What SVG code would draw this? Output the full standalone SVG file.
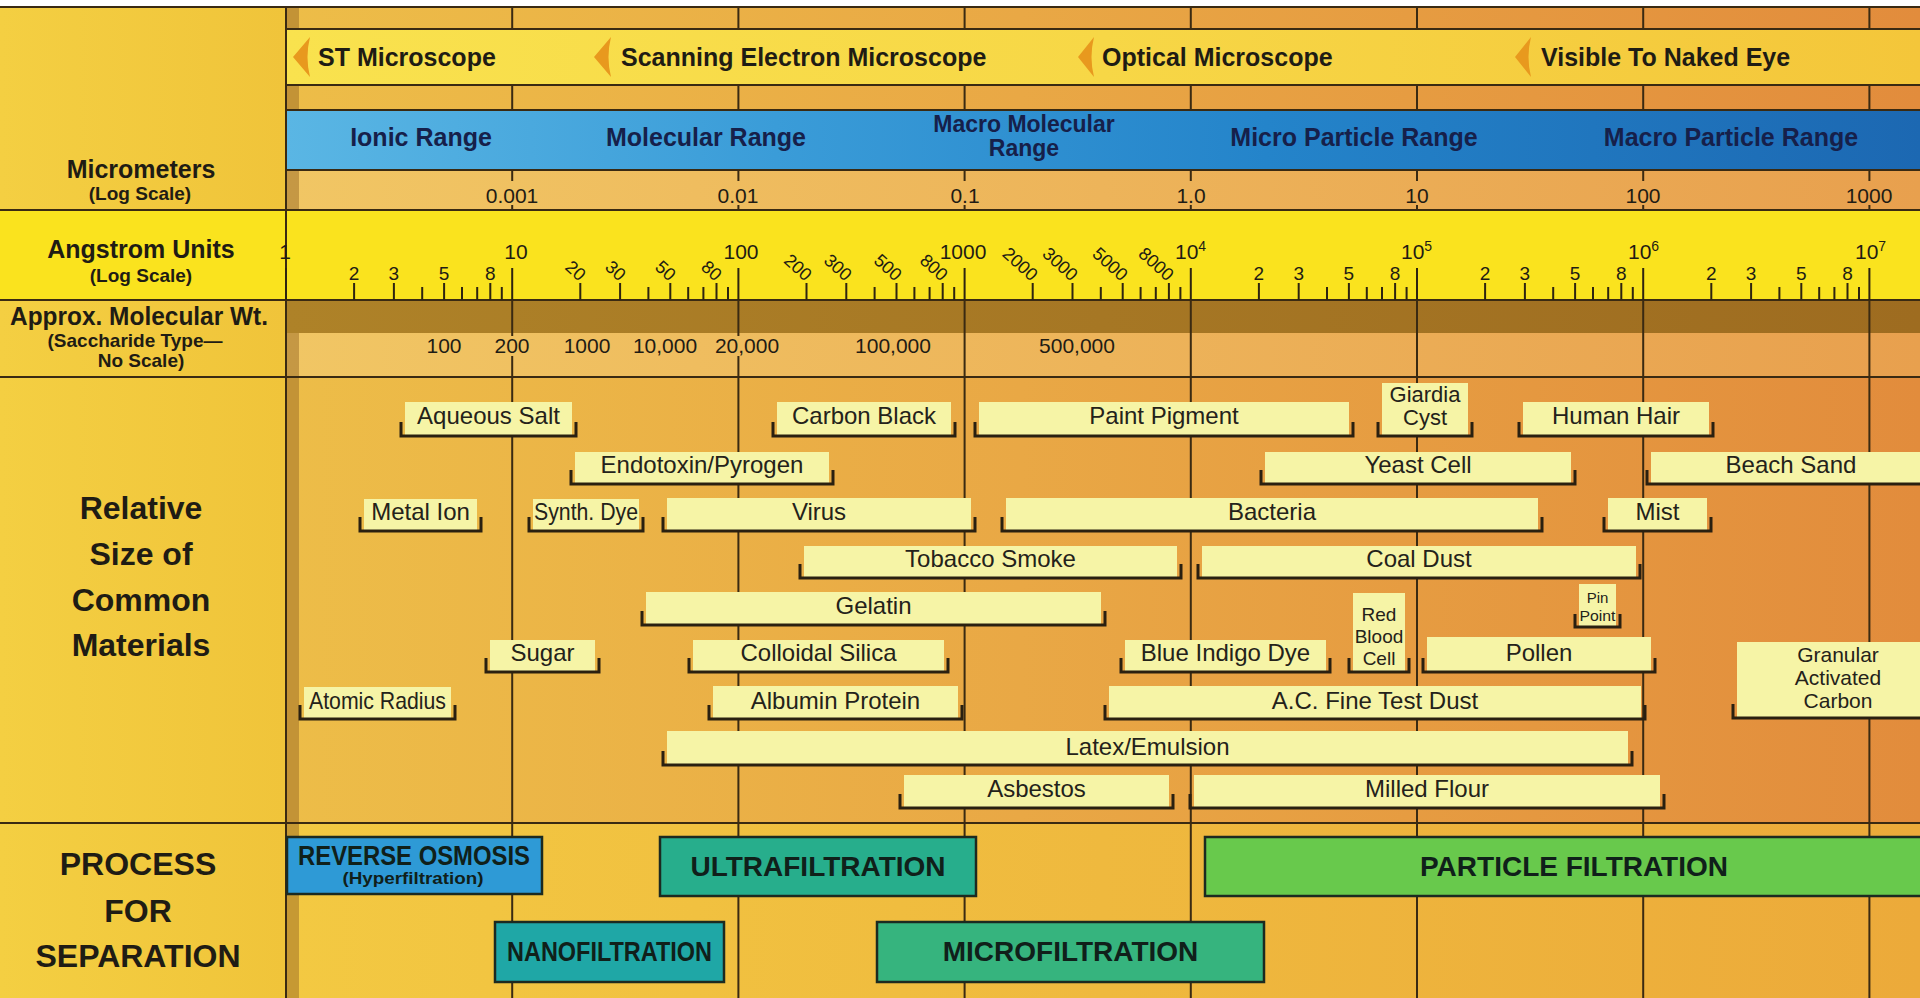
<svg xmlns="http://www.w3.org/2000/svg" width="1920" height="998" viewBox="0 0 1920 998">
  <defs>
    <linearGradient id="gOrange" x1="286" y1="0" x2="1920" y2="0" gradientUnits="userSpaceOnUse">
      <stop offset="0" stop-color="#EDBD48"/>
      <stop offset="0.45" stop-color="#E9A845"/>
      <stop offset="1" stop-color="#E28C3C"/>
    </linearGradient>
    <linearGradient id="gLight" x1="286" y1="0" x2="1920" y2="0" gradientUnits="userSpaceOnUse">
      <stop offset="0" stop-color="#F1C664"/>
      <stop offset="0.5" stop-color="#EDB45A"/>
      <stop offset="1" stop-color="#E8A04E"/>
    </linearGradient>
    <linearGradient id="gProc" x1="286" y1="0" x2="1920" y2="0" gradientUnits="userSpaceOnUse">
      <stop offset="0" stop-color="#F3C942"/>
      <stop offset="0.5" stop-color="#EFB93E"/>
      <stop offset="1" stop-color="#ECAA3A"/>
    </linearGradient>
    <linearGradient id="gScope" x1="286" y1="0" x2="1920" y2="0" gradientUnits="userSpaceOnUse">
      <stop offset="0" stop-color="#F9E24E"/>
      <stop offset="0.5" stop-color="#F7D746"/>
      <stop offset="1" stop-color="#F4C63A"/>
    </linearGradient>
    <linearGradient id="gBlue" x1="286" y1="0" x2="1920" y2="0" gradientUnits="userSpaceOnUse">
      <stop offset="0" stop-color="#5AB6E4"/>
      <stop offset="0.3" stop-color="#3A9CD8"/>
      <stop offset="0.6" stop-color="#2484CA"/>
      <stop offset="1" stop-color="#1C68B2"/>
    </linearGradient>
    <linearGradient id="gBrown" x1="286" y1="0" x2="1920" y2="0" gradientUnits="userSpaceOnUse">
      <stop offset="0" stop-color="#AE8228"/>
      <stop offset="1" stop-color="#9E6C20"/>
    </linearGradient>
    <linearGradient id="gLeft" x1="0" y1="0" x2="286" y2="0" gradientUnits="userSpaceOnUse">
      <stop offset="0" stop-color="#F4CF42"/>
      <stop offset="1" stop-color="#F0C43A"/>
    </linearGradient>
  </defs>
  <style>
    text { font-family: "Liberation Sans", Arial, Helvetica, sans-serif; fill: #1f1c14; }
    .hdr { font-size: 25px; font-weight: bold; text-anchor: middle; }
    .sub { font-size: 19px; font-weight: bold; text-anchor: middle; }
    .big { font-size: 32px; font-weight: bold; text-anchor: middle; }
    .scope { font-size: 25px; font-weight: bold; }
    .rng { font-size: 25px; font-weight: bold; text-anchor: middle; fill: #16204a; }
    .num { font-size: 21px; text-anchor: middle; }
    .dig { font-size: 19px; text-anchor: middle; }
    .rot { font-size: 18px; text-anchor: end; }
    .grid { stroke: #3a2a12; stroke-width: 2; fill: none; }
    .tick { stroke: #2e2410; stroke-width: 2; fill: none; }
    .box { fill: #F6F4A6; }
    .brk { fill: none; stroke: #2a2010; stroke-width: 3; }
    .mt { font-size: 24px; text-anchor: middle; fill: #24221a; }
    .arrow { fill: #E8991E; }
    .proc { stroke: #1c2a20; stroke-width: 2.5; }
    .pt { font-size: 28px; font-weight: bold; text-anchor: middle; fill: #10201a; }
  </style>

  <!-- backgrounds -->
  <g id="background">
    <rect x="0" y="0" width="1920" height="998" fill="#FFFFFF"/>
    <rect x="0" y="7" width="286" height="991" fill="url(#gLeft)"/>
    <rect x="286" y="7" width="1634" height="22" fill="url(#gOrange)"/>
    <rect x="286" y="85" width="1634" height="25" fill="url(#gOrange)"/>
    <rect x="286" y="170" width="1634" height="40" fill="url(#gLight)"/>
    <rect x="286" y="333" width="1634" height="44" fill="url(#gLight)"/>
    <rect x="286" y="377" width="1634" height="446" fill="url(#gOrange)"/>
    <rect x="286" y="823" width="1634" height="175" fill="url(#gProc)"/>
    <!-- shaded strip along the left edge of the scale -->
    <rect x="287" y="7" width="12" height="991" fill="#9A6A24" opacity="0.5"/>
    <!-- bands -->
    <rect x="287" y="29" width="1633" height="56" fill="url(#gScope)"/>
    <rect x="287" y="110" width="1633" height="60" fill="url(#gBlue)"/>
    <rect x="0" y="210" width="1920" height="90" fill="#FAE31E"/>
    <rect x="287" y="300" width="1633" height="33" fill="url(#gBrown)"/>
  </g>

  <!-- grid lines and rules -->
  <g id="grid">
    <path class="grid" d="M0 7H1920M0 210H1920M0 300H1920M0 377H1920M0 823H1920M286 29H1920M286 85H1920M286 110H1920M286 170H1920"/>
    <path class="grid" d="M286 7V998"/>
    <path class="grid" d="M512.2 7V29M738.4 7V29M964.6 7V29M1190.8 7V29M1417 7V29M1643.2 7V29M1869.4 7V29"/>
    <path class="grid" d="M512.2 85V110M738.4 85V110M964.6 85V110M1190.8 85V110M1417 85V110M1643.2 85V110M1869.4 85V110"/>
    <path class="grid" d="M512.2 170V181M738.4 170V181M964.6 170V181M1190.8 170V181M1417 170V181M1643.2 170V181M1869.4 170V181"/>
    <path class="grid" d="M512.2 205V210M738.4 205V210M964.6 205V210M1190.8 205V210M1417 205V210M1643.2 205V210M1869.4 205V210"/>
    <path class="grid" d="M512.2 300V336M512.2 356V377M738.4 300V336M738.4 356V377M964.6 300V377M1190.8 300V377M1417 300V377M1643.2 300V377M1869.4 300V377"/>
    <path class="grid" d="M512.2 377V998M738.4 377V998M964.6 377V998M1190.8 377V998M1417 377V998M1643.2 377V998M1869.4 377V998"/>
  </g>

  <!-- Angstrom scale ticks -->
  <g id="angstrom-ticks">
    <path class="tick" d="M286 268V300M512.2 268V300M738.4 268V300M964.6 268V300M1190.8 268V300M1417 268V300M1643.2 268V300M1869.4 268V300"/>
    <path class="tick" d="M354.1 283V300M393.9 283V300M444.1 283V300M490.3 283V300
      M580.3 283V300M620.1 283V300M670.3 283V300M716.5 283V300
      M806.5 283V300M846.3 283V300M896.5 283V300M942.7 283V300
      M1032.7 283V300M1072.5 283V300M1122.7 283V300M1168.9 283V300
      M1258.9 283V300M1298.7 283V300M1348.9 283V300M1395.1 283V300
      M1485.1 283V300M1524.9 283V300M1575.1 283V300M1621.3 283V300
      M1711.3 283V300M1751.1 283V300M1801.3 283V300M1847.5 283V300"/>
    <path class="tick" d="M422.2 287V300M462 287V300M477.2 287V300M501.8 287V300
      M648.4 287V300M688.2 287V300M703.4 287V300M728 287V300
      M874.6 287V300M914.4 287V300M929.6 287V300M954.2 287V300
      M1100.8 287V300M1140.6 287V300M1155.8 287V300M1180.4 287V300
      M1327 287V300M1366.8 287V300M1382 287V300M1406.6 287V300
      M1553.2 287V300M1593 287V300M1608.2 287V300M1632.8 287V300
      M1779.4 287V300M1819.2 287V300M1834.4 287V300M1859 287V300"/>
  </g>

  <!-- Angstrom scale labels -->
  <g id="angstrom-labels">
    <text class="num" x="285" y="259">1</text>
    <text class="num" x="516" y="259">10</text>
    <text class="num" x="741" y="259">100</text>
    <text class="num" x="963" y="259">1000</text>
    <text class="num" x="1175" y="259" style="text-anchor:start">10<tspan font-size="14" dy="-8">4</tspan></text>
    <text class="num" x="1401" y="259" style="text-anchor:start">10<tspan font-size="14" dy="-8">5</tspan></text>
    <text class="num" x="1628" y="259" style="text-anchor:start">10<tspan font-size="14" dy="-8">6</tspan></text>
    <text class="num" x="1855" y="259" style="text-anchor:start">10<tspan font-size="14" dy="-8">7</tspan></text>

    <text class="dig" x="354.1" y="280">2</text>
    <text class="dig" x="393.9" y="280">3</text>
    <text class="dig" x="444.1" y="280">5</text>
    <text class="dig" x="490.3" y="280">8</text>

    <text class="rot" x="579" y="282" transform="rotate(42 579 282)">20</text>
    <text class="rot" x="619" y="282" transform="rotate(42 619 282)">30</text>
    <text class="rot" x="669" y="282" transform="rotate(42 669 282)">50</text>
    <text class="rot" x="715" y="282" transform="rotate(42 715 282)">80</text>
    <text class="rot" x="805" y="282" transform="rotate(42 805 282)">200</text>
    <text class="rot" x="845" y="282" transform="rotate(42 845 282)">300</text>
    <text class="rot" x="895" y="282" transform="rotate(42 895 282)">500</text>
    <text class="rot" x="941" y="282" transform="rotate(42 941 282)">800</text>
    <text class="rot" x="1031" y="282" transform="rotate(42 1031 282)">2000</text>
    <text class="rot" x="1071" y="282" transform="rotate(42 1071 282)">3000</text>
    <text class="rot" x="1121" y="282" transform="rotate(42 1121 282)">5000</text>
    <text class="rot" x="1167" y="282" transform="rotate(42 1167 282)">8000</text>

    <text class="dig" x="1258.9" y="280">2</text>
    <text class="dig" x="1298.7" y="280">3</text>
    <text class="dig" x="1348.9" y="280">5</text>
    <text class="dig" x="1395.1" y="280">8</text>
    <text class="dig" x="1485.1" y="280">2</text>
    <text class="dig" x="1524.9" y="280">3</text>
    <text class="dig" x="1575.1" y="280">5</text>
    <text class="dig" x="1621.3" y="280">8</text>
    <text class="dig" x="1711.3" y="280">2</text>
    <text class="dig" x="1751.1" y="280">3</text>
    <text class="dig" x="1801.3" y="280">5</text>
    <text class="dig" x="1847.5" y="280">8</text>
  </g>

  <!-- Micrometer scale labels -->
  <g id="micrometer-labels">
    <text class="num" x="512" y="203">0.001</text>
    <text class="num" x="738" y="203">0.01</text>
    <text class="num" x="965" y="203">0.1</text>
    <text class="num" x="1191" y="203">1.0</text>
    <text class="num" x="1417" y="203">10</text>
    <text class="num" x="1643" y="203">100</text>
    <text class="num" x="1869" y="203">1000</text>
  </g>

  <!-- Molecular weight labels -->
  <g id="mw-labels">
    <text class="num" x="444" y="353">100</text>
    <text class="num" x="512" y="353">200</text>
    <text class="num" x="587" y="353">1000</text>
    <text class="num" x="665" y="353">10,000</text>
    <text class="num" x="747" y="353">20,000</text>
    <text class="num" x="893" y="353">100,000</text>
    <text class="num" x="1077" y="353">500,000</text>
  </g>

  <!-- microscope band -->
  <g id="microscopes">
    <path class="arrow" d="M293 57L310 37Q305 57 310 77Z"/>
    <text class="scope" x="318" y="66">ST Microscope</text>
    <path class="arrow" d="M594 57L611 37Q606 57 611 77Z"/>
    <text class="scope" x="621" y="66">Scanning Electron Microscope</text>
    <path class="arrow" d="M1078 57L1094 37Q1089 57 1094 77Z"/>
    <text class="scope" x="1102" y="66">Optical Microscope</text>
    <path class="arrow" d="M1515 57L1531 37Q1526 57 1531 77Z"/>
    <text class="scope" x="1541" y="66">Visible To Naked Eye</text>
  </g>

  <!-- size ranges -->
  <g id="ranges">
    <text class="rng" x="421" y="146">Ionic Range</text>
    <text class="rng" x="706" y="146">Molecular Range</text>
    <text class="rng" x="1024" y="132" style="font-size:23px">Macro Molecular</text>
    <text class="rng" x="1024" y="156" style="font-size:23px">Range</text>
    <text class="rng" x="1354" y="146">Micro Particle Range</text>
    <text class="rng" x="1731" y="146">Macro Particle Range</text>
  </g>

  <!-- left column headings -->
  <g id="row-headings">
    <text class="hdr" x="141" y="178">Micrometers</text>
    <text class="sub" x="140" y="200">(Log Scale)</text>
    <text class="hdr" x="141" y="258">Angstrom Units</text>
    <text class="sub" x="141" y="282">(Log Scale)</text>
    <text class="hdr" x="139" y="325" textLength="258" lengthAdjust="spacingAndGlyphs">Approx. Molecular Wt.</text>
    <text class="sub" x="135" y="347">(Saccharide Type—</text>
    <text class="sub" x="141" y="367">No Scale)</text>
    <text class="big" x="141" y="519">Relative</text>
    <text class="big" x="141" y="565">Size of</text>
    <text class="big" x="141" y="611">Common</text>
    <text class="big" x="141" y="656">Materials</text>
    <text class="big" x="138" y="875">PROCESS</text>
    <text class="big" x="138" y="922">FOR</text>
    <text class="big" x="138" y="967">SEPARATION</text>
  </g>

  <!-- common materials -->
  <g id="m-aqueous-salt"><rect class="box" x="405" y="402" width="167" height="33"/><path class="brk" d="M401 422V436H576V422"/><text class="mt" x="488.5" y="424">Aqueous Salt</text></g>
  <g id="m-carbon-black"><rect class="box" x="777" y="402" width="174" height="33"/><path class="brk" d="M773 422V436H955V422"/><text class="mt" x="864" y="424">Carbon Black</text></g>
  <g id="m-paint-pigment"><rect class="box" x="979" y="402" width="370" height="33"/><path class="brk" d="M975 422V436H1353V422"/><text class="mt" x="1164" y="424">Paint Pigment</text></g>
  <g id="m-giardia-cyst"><rect class="box" x="1382" y="383" width="86" height="52"/><path class="brk" d="M1378 422V436H1472V422"/><text class="mt" x="1425" y="402" style="font-size:22px">Giardia</text><text class="mt" x="1425" y="425" style="font-size:22px">Cyst</text></g>
  <g id="m-human-hair"><rect class="box" x="1523" y="402" width="186" height="33"/><path class="brk" d="M1519 422V436H1713V422"/><text class="mt" x="1616" y="424">Human Hair</text></g>

  <g id="m-endotoxin"><rect class="box" x="575" y="452" width="254" height="31"/><path class="brk" d="M571 470V484H833V470"/><text class="mt" x="702" y="473">Endotoxin/Pyrogen</text></g>
  <g id="m-yeast-cell"><rect class="box" x="1265" y="452" width="306" height="31"/><path class="brk" d="M1261 470V484H1575V470"/><text class="mt" x="1418" y="473">Yeast Cell</text></g>
  <g id="m-beach-sand"><rect class="box" x="1651" y="452" width="280" height="31"/><path class="brk" d="M1647 470V484H1930"/><text class="mt" x="1791" y="473">Beach Sand</text></g>

  <g id="m-metal-ion"><rect class="box" x="364" y="499" width="113" height="31"/><path class="brk" d="M360 517V531H481V517"/><text class="mt" x="420.5" y="520">Metal Ion</text></g>
  <g id="m-synth-dye"><rect class="box" x="533" y="499" width="106" height="31"/><path class="brk" d="M529 517V531H643V517"/><text class="mt" x="586" y="520" textLength="104" lengthAdjust="spacingAndGlyphs">Synth. Dye</text></g>
  <g id="m-virus"><rect class="box" x="667" y="498" width="304" height="32"/><path class="brk" d="M663 517V531H975V517"/><text class="mt" x="819" y="520">Virus</text></g>
  <g id="m-bacteria"><rect class="box" x="1006" y="498" width="532" height="32"/><path class="brk" d="M1002 517V531H1542V517"/><text class="mt" x="1272" y="520">Bacteria</text></g>
  <g id="m-mist"><rect class="box" x="1608" y="498" width="99" height="32"/><path class="brk" d="M1604 517V531H1711V517"/><text class="mt" x="1657.5" y="520">Mist</text></g>

  <g id="m-tobacco-smoke"><rect class="box" x="804" y="546" width="373" height="31"/><path class="brk" d="M800 564V578H1181V564"/><text class="mt" x="990.5" y="567">Tobacco Smoke</text></g>
  <g id="m-coal-dust"><rect class="box" x="1202" y="546" width="434" height="31"/><path class="brk" d="M1198 564V578H1640V564"/><text class="mt" x="1419" y="567">Coal Dust</text></g>

  <g id="m-gelatin"><rect class="box" x="646" y="592" width="455" height="32"/><path class="brk" d="M642 611V625H1105V611"/><text class="mt" x="873.5" y="614">Gelatin</text></g>
  <g id="m-pin-point"><rect class="box" x="1579" y="584" width="37" height="42"/><path class="brk" d="M1575 614V627H1620V614"/><text class="mt" x="1597.5" y="603" style="font-size:15px">Pin</text><text class="mt" x="1597.5" y="621" style="font-size:15px" textLength="36" lengthAdjust="spacingAndGlyphs">Point</text></g>

  <g id="m-sugar"><rect class="box" x="490" y="640" width="105" height="31"/><path class="brk" d="M486 658V672H599V658"/><text class="mt" x="542.5" y="661">Sugar</text></g>
  <g id="m-colloidal-silica"><rect class="box" x="693" y="640" width="251" height="31"/><path class="brk" d="M689 658V672H948V658"/><text class="mt" x="818.5" y="661">Colloidal Silica</text></g>
  <g id="m-blue-indigo-dye"><rect class="box" x="1125" y="640" width="201" height="31"/><path class="brk" d="M1121 658V672H1330V658"/><text class="mt" x="1225.5" y="661">Blue Indigo Dye</text></g>
  <g id="m-red-blood-cell"><rect class="box" x="1353" y="593" width="52" height="78"/><path class="brk" d="M1349 658V672H1409V658"/><text class="mt" x="1379" y="621" style="font-size:19px">Red</text><text class="mt" x="1379" y="643" style="font-size:19px">Blood</text><text class="mt" x="1379" y="665" style="font-size:19px">Cell</text></g>
  <g id="m-pollen"><rect class="box" x="1427" y="637" width="224" height="34"/><path class="brk" d="M1423 658V672H1655V658"/><text class="mt" x="1539" y="661">Pollen</text></g>
  <g id="m-granular-carbon"><rect class="box" x="1737" y="642" width="190" height="75"/><path class="brk" d="M1733 704V718H1930"/><text class="mt" x="1838" y="662" style="font-size:21px">Granular</text><text class="mt" x="1838" y="685" style="font-size:21px">Activated</text><text class="mt" x="1838" y="708" style="font-size:21px">Carbon</text></g>

  <g id="m-atomic-radius"><rect class="box" x="304" y="687" width="147" height="31"/><path class="brk" d="M300 705V719H455V705"/><text class="mt" x="377.5" y="709" textLength="137" lengthAdjust="spacingAndGlyphs">Atomic Radius</text></g>
  <g id="m-albumin-protein"><rect class="box" x="713" y="686" width="245" height="32"/><path class="brk" d="M709 705V719H962V705"/><text class="mt" x="835.5" y="709">Albumin Protein</text></g>
  <g id="m-ac-fine-test-dust"><rect class="box" x="1109" y="686" width="532" height="32"/><path class="brk" d="M1105 705V719H1645V705"/><text class="mt" x="1375" y="709">A.C. Fine Test Dust</text></g>

  <g id="m-latex-emulsion"><rect class="box" x="667" y="731" width="961" height="33"/><path class="brk" d="M663 751V765H1632V751"/><text class="mt" x="1147.5" y="755">Latex/Emulsion</text></g>

  <g id="m-asbestos"><rect class="box" x="904" y="775" width="265" height="32"/><path class="brk" d="M900 794V808H1173V794"/><text class="mt" x="1036.5" y="797">Asbestos</text></g>
  <g id="m-milled-flour"><rect class="box" x="1194" y="775" width="466" height="32"/><path class="brk" d="M1190 794V808H1664V794"/><text class="mt" x="1427" y="797">Milled Flour</text></g>

  <!-- separation processes -->
  <g id="p-reverse-osmosis"><rect class="proc" x="287" y="837" width="255" height="57" fill="#2E9AD6"/><text class="pt" x="414" y="865" style="font-size:27px" textLength="232" lengthAdjust="spacingAndGlyphs">REVERSE OSMOSIS</text><text class="pt" x="413" y="884" style="font-size:17px" textLength="141" lengthAdjust="spacingAndGlyphs">(Hyperfiltration)</text></g>
  <g id="p-ultrafiltration"><rect class="proc" x="660" y="837" width="316" height="59" fill="#27AE8C"/><text class="pt" x="818" y="876">ULTRAFILTRATION</text></g>
  <g id="p-particle-filtration"><rect class="proc" x="1205" y="837" width="725" height="59" fill="#68C94C"/><text class="pt" x="1574" y="876">PARTICLE FILTRATION</text></g>
  <g id="p-nanofiltration"><rect class="proc" x="495" y="922" width="229" height="60" fill="#1FA7A6"/><text class="pt" x="609.5" y="961" textLength="205" lengthAdjust="spacingAndGlyphs">NANOFILTRATION</text></g>
  <g id="p-microfiltration"><rect class="proc" x="877" y="922" width="387" height="60" fill="#36B47E"/><text class="pt" x="1070.5" y="961">MICROFILTRATION</text></g>
</svg>
